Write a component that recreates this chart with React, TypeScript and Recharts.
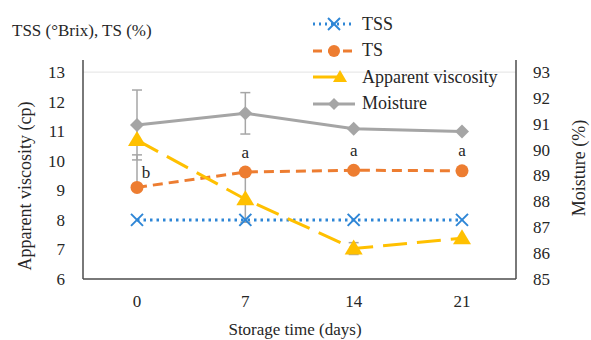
import {
  ErrorBar,
  Label,
  LabelList,
  Legend,
  Line,
  LineChart,
  ReferenceLine,
  XAxis,
  YAxis,
} from "recharts";

const days = ["0", "7", "14", "21"];
const tss = [8.0, 8.0, 8.0, 8.0];
const ts = [9.1, 9.62, 9.68, 9.66];
const viscosity = [10.7, 8.7, 7.03, 7.38];
const moisture = [90.95, 91.4, 90.8, 90.7];
const moistureErr = [1.35, 0.8, 0, 0];
const tsErr: [number, number][] = [
  [0, 1.1],
  [1.7, 0],
  [0.08, 0],
  [0, 0],
];
const viscosityErr = [0, 0, 0.2, 0];
const tsLetters = ["b", "a", "a", "a"];
const leftTicks = [6, 7, 8, 9, 10, 11, 12, 13];
const rightTicks = [85, 86, 87, 88, 89, 90, 91, 92, 93];

const FONT = "'Liberation Serif', 'Times New Roman', 'DejaVu Serif', serif";
const TEXT = "#262626";
const AXIS = "#4d4d4d";
const ERR = "#a6a6a6";

// Excel-ish series colours
const BLUE = "#2E86D6";
const ORANGE = "#ED7D31";
const GOLD = "#FFC000";
const GRAY = "#A5A5A5";

const chartData = days.map((day, i) => ({
  day,
  tss: tss[i],
  ts: ts[i],
  viscosity: viscosity[i],
  moisture: moisture[i],
  moistureErr: moistureErr[i],
  tsErr: tsErr[i],
  viscosityErr: viscosityErr[i],
}));

const crossDot = (props: any) => {
  const { cx, cy, index } = props;
  return (
    <g key={`x-${index}`}>
      <line x1={cx - 6} y1={cy - 6} x2={cx + 6} y2={cy + 6} stroke={BLUE} strokeWidth={2} />
      <line x1={cx - 6} y1={cy + 6} x2={cx + 6} y2={cy - 6} stroke={BLUE} strokeWidth={2} />
    </g>
  );
};

const circleDot = (props: any) => {
  const { cx, cy, index } = props;
  return <circle key={`c-${index}`} cx={cx} cy={cy} r={6.5} fill={ORANGE} />;
};

const triangleDot = (props: any) => {
  const { cx, cy, index } = props;
  return (
    <polygon
      key={`t-${index}`}
      points={`${cx},${cy - 9} ${cx - 9},${cy + 6} ${cx + 9},${cy + 6}`}
      fill={GOLD}
    />
  );
};

const diamondDot = (props: any) => {
  const { cx, cy, index } = props;
  return (
    <polygon
      key={`d-${index}`}
      points={`${cx},${cy - 7} ${cx + 7},${cy} ${cx},${cy + 7} ${cx - 7},${cy}`}
      fill={GRAY}
    />
  );
};

const legendItems = [
  { name: "TSS", color: BLUE, dash: "2 4", marker: "x" },
  { name: "TS", color: ORANGE, dash: "9 6", marker: "circle" },
  { name: "Apparent viscosity", color: GOLD, dash: "", marker: "triangle" },
  { name: "Moisture", color: GRAY, dash: "", marker: "diamond" },
];

const LegendSymbol = ({ color, dash, marker }: any) => {
  const cx = 23;
  const cy = 10;
  let m = null;
  if (marker === "x") {
    m = (
      <g stroke={color} strokeWidth={2}>
        <line x1={cx - 6} y1={cy - 6} x2={cx + 6} y2={cy + 6} />
        <line x1={cx - 6} y1={cy + 6} x2={cx + 6} y2={cy - 6} />
      </g>
    );
  } else if (marker === "circle") {
    m = <circle cx={cx} cy={cy} r={6} fill={color} />;
  } else if (marker === "triangle") {
    m = (
      <polygon
        points={`${cx + 6},${cy - 7} ${cx - 1},${cy + 5} ${cx + 13},${cy + 5}`}
        fill={color}
      />
    );
  } else {
    m = <polygon points={`${cx},${cy - 6} ${cx + 6},${cy} ${cx},${cy + 6} ${cx - 6},${cy}`} fill={color} />;
  }
  const x2 = marker === "triangle" ? 32 : 44;
  return (
    <svg width={48} height={20} style={{ display: "block" }}>
      <line x1={2} y1={cy} x2={x2} y2={cy} stroke={color} strokeWidth={3} strokeDasharray={dash || undefined} />
      {m}
    </svg>
  );
};

const renderLegend = () => (
  <div style={{ fontFamily: FONT, fontSize: 18, color: TEXT }}>
    {legendItems.map((item) => (
      <div key={item.name} style={{ display: "flex", alignItems: "center", height: 26.5 }}>
        <LegendSymbol {...item} />
        <span style={{ marginLeft: 3, whiteSpace: "nowrap" }}>{item.name}</span>
      </div>
    ))}
  </div>
);

const renderLetter = (props: any) => {
  const { x, y, index } = props;
  const first = index === 0;
  return (
    <text
      key={`l-${index}`}
      x={x + (first ? 9 : 0)}
      y={y - (first ? 15 : 20)}
      textAnchor="middle"
      dominantBaseline="central"
      fontFamily={FONT}
      fontSize={17}
      fill={TEXT}
    >
      {tsLetters[index]}
    </text>
  );
};

const tickStyle = { fontFamily: FONT, fontSize: 17, fill: TEXT };

export default function App() {
  return (
    <div
      style={{
        position: "absolute",
        left: 0,
        top: 0,
        width: 591,
        height: 340,
        background: "#fff",
        fontFamily: FONT,
      }}
    >
      <LineChart
        width={591}
        height={340}
        data={chartData}
        margin={{ top: 60, right: 0, bottom: 0, left: 0 }}
        style={{ fontFamily: FONT }}
      >
        <XAxis
          dataKey="day"
          height={61}
          padding={{ left: 54, right: 54 }}
          tickLine={false}
          tickMargin={10}
          stroke={AXIS}
          strokeWidth={1.5}
          tick={tickStyle}
        >
          <Label
            content={() => (
              <text
                x={295}
                y={329}
                textAnchor="middle"
                dominantBaseline="central"
                fontFamily={FONT}
                fontSize={17}
                fill={TEXT}
              >
                Storage time  (days)
              </text>
            )}
          />
        </XAxis>
        <YAxis
          yAxisId="left"
          width={83}
          domain={[6, 13.41]}
          ticks={leftTicks}
          interval={0}
          tickLine={false}
          tickMargin={12}
          stroke={AXIS}
          strokeWidth={1.5}
          tick={tickStyle}
        >
          <Label
            content={() => (
              <g>
                <text
                  transform="translate(25,186) rotate(-90)"
                  textAnchor="middle"
                  dominantBaseline="central"
                  fontFamily={FONT}
                  fontSize={18}
                  fill={TEXT}
                >
                  Apparent viscosity  (cp)
                </text>
                <text x={12} y={36} fontFamily={FONT} fontSize={17} fill={TEXT}>
                  TSS (°Brix),  TS (%)
                </text>
              </g>
            )}
          />
        </YAxis>
        <YAxis
          yAxisId="right"
          orientation="right"
          width={75}
          domain={[85, 93.46]}
          ticks={rightTicks}
          interval={0}
          tickLine={false}
          tickMargin={11}
          stroke={AXIS}
          strokeWidth={1.5}
          tick={tickStyle}
        >
          <Label
            content={() => (
              <text
                transform="translate(579,168) rotate(-90)"
                textAnchor="middle"
                dominantBaseline="central"
                fontFamily={FONT}
                fontSize={18}
                fill={TEXT}
              >
                Moisture  (%)
              </text>
            )}
          />
        </YAxis>
        <ReferenceLine yAxisId="left" y={13} stroke="#e3e3e3" strokeWidth={1} />
        <Legend
          layout="vertical"
          align="center"
          verticalAlign="middle"
          wrapperStyle={{ left: 311, top: 11, width: 210 }}
          content={renderLegend}
        />
        <Line
          yAxisId="left"
          dataKey="tss"
          name="TSS"
          stroke={BLUE}
          strokeWidth={3}
          strokeDasharray="2.5 4"
          dot={crossDot}
          activeDot={false}
          isAnimationActive={false}
        />
        <Line
          yAxisId="left"
          dataKey="ts"
          name="TS"
          stroke={ORANGE}
          strokeWidth={3}
          strokeDasharray="10 6"
          dot={circleDot}
          activeDot={false}
          isAnimationActive={false}
        >
          <ErrorBar dataKey="tsErr" direction="y" width={5} stroke={ERR} strokeWidth={1.5} />
          <LabelList dataKey="ts" content={renderLetter} />
        </Line>
        <Line
          yAxisId="left"
          dataKey="viscosity"
          name="Apparent viscosity"
          stroke={GOLD}
          strokeWidth={3}
          strokeDasharray="24 10"
          dot={triangleDot}
          activeDot={false}
          isAnimationActive={false}
        >
          <ErrorBar dataKey="viscosityErr" direction="y" width={5} stroke={ERR} strokeWidth={1.5} />
        </Line>
        <Line
          yAxisId="right"
          dataKey="moisture"
          name="Moisture"
          stroke={GRAY}
          strokeWidth={3}
          dot={diamondDot}
          activeDot={false}
          isAnimationActive={false}
        >
          <ErrorBar dataKey="moistureErr" direction="y" width={5} stroke={ERR} strokeWidth={1.5} />
        </Line>
      </LineChart>
    </div>
  );
}
